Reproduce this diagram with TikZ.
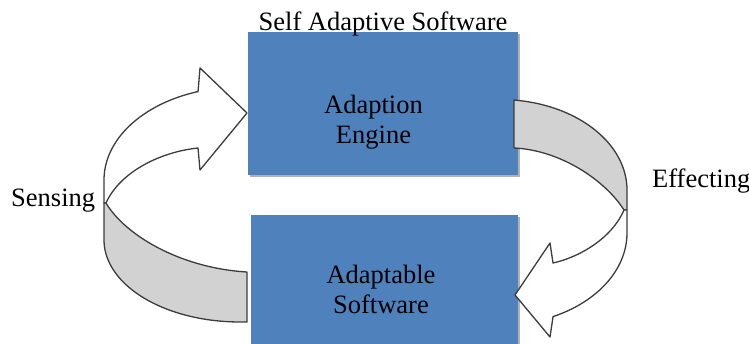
\documentclass[tikz,border=0pt]{standalone}
\usepackage{fontspec}
\setmainfont{Liberation Serif}
\usetikzlibrary{shadows}
\definecolor{boxblue}{RGB}{79,129,189}
\definecolor{ribbongray}{RGB}{210,210,210}
\definecolor{edgegray}{RGB}{60,60,60}
\begin{document}
\begin{tikzpicture}[x=1pt,y=-1pt,
  lbl/.style={font=\fontsize{26.5}{30}\selectfont, inner sep=0pt, anchor=base},
  bluebox/.style={draw=none, fill=boxblue, inner sep=0pt,
    drop shadow={shadow xshift=1.5pt, shadow yshift=-1.5pt, opacity=.3, fill=black}},
  ribbon/.style={draw=edgegray, line width=1.3pt, line join=round},
]
\useasboundingbox (0,0) rectangle (749,343);
\clip (0,0) rectangle (749,343);

% boxes
\node[bluebox, minimum width=270pt, minimum height=143pt] (engine) at (383,103.5) {};
\node[bluebox, minimum width=267pt, minimum height=132pt] (software) at (384.5,281) {};

% texts
\node[lbl] (title) at (383,30) {Self Adaptive Software};
\node[lbl] (eng1) at (373.5,113) {Adaption};
\node[lbl] (eng2) at (373.5,143) {Engine};
\node[lbl] (sw1) at (381,283) {Adaptable};
\node[lbl] (sw2) at (381,313) {Software};
\node[lbl, anchor=base west] (sensing) at (11,206) {Sensing};
\node[lbl, anchor=base west] (effecting) at (652,187) {Effecting};

% left (sensing) arrow: front part
\filldraw[ribbon, fill=white] (198,92) -- (200,68) -- (247,113) -- (200,170) -- (198,148)
  .. controls (160,152) and (120,172) .. (106,203) -- (104,203) -- (104,180)
  -- plot[domain=180:252, variable=\t, samples=40] ({240+136*cos(\t)},{180+93*sin(\t)}) -- cycle;
% left arrow: back part (gray)
\filldraw[ribbon, fill=ribbongray] (106,203) .. controls (125,235) and (180,268) .. (247,272)
  -- (247,322)
  -- plot[domain=87:180, variable=\t, samples=40] ({240+136*cos(\t)},{240+82*sin(\t)})
  -- (104,203) -- cycle;

% right (effecting) arrow: back part (gray)
\filldraw[ribbon, fill=ribbongray] (514,100)
  -- plot[domain=276.3:360, variable=\t, samples=40] ({500+127*cos(\t)},{190+90.5*sin(\t)})
  -- (627,210) -- (624,210) .. controls (605,180) and (560,150) .. (514,148) -- cycle;
% right arrow: front part
\filldraw[ribbon, fill=white] (624,210) -- (627,210) -- (627,233)
  -- plot[domain=0:65.3, variable=\t, samples=40] ({500+127*cos(\t)},{233+92*sin(\t)})
  -- (550,337) -- (515,295) -- (550,243) -- (553,263)
  .. controls (580,257) and (612,238) .. (624,210) -- cycle;
\end{tikzpicture}
\end{document}
